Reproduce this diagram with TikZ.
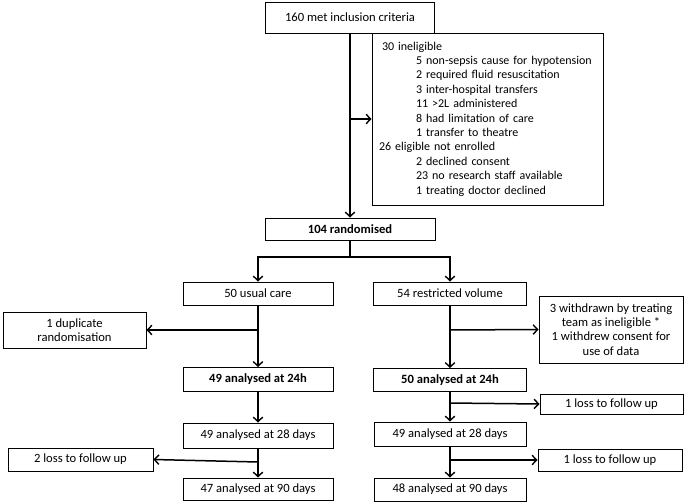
\documentclass[tikz,border=0pt]{standalone}
\usepackage{fontspec}
\setmainfont{Carlito}
\usetikzlibrary{arrows.meta}
\begin{document}
\begin{tikzpicture}[x=1pt,y=-1pt,
  box/.style={draw=black, line width=0.9pt, fill=white, inner sep=2pt, align=center,
    font=\fontsize{12.6}{14.2}\selectfont},
  bbox/.style={box, font=\fontsize{12.6}{14.2}\selectfont\bfseries},
  arr/.style={line width=1.5pt, -{Straight Barb[length=4.5pt,width=9.5pt,line width=1.4pt]}},
  ln/.style={line width=1.5pt}]
\useasboundingbox (0,0) rectangle (685,503);
% main column
\node[box, minimum width=169pt, minimum height=31pt] (top) at (350,17.5) {160 met inclusion criteria};
\node[box, minimum width=231pt, minimum height=172pt, text width=217pt, inner xsep=7pt, align=left,
  font=\fontsize{12}{14.4}\selectfont] (excl) at (487.5,119)
{\hspace*{3pt}30 ineligible\\
\hspace*{37pt}5 non-sepsis cause for hypotension\\
\hspace*{37pt}2 required fluid resuscitation\\
\hspace*{37pt}3 inter-hospital transfers\\
\hspace*{37pt}11 >2L administered\\
\hspace*{37pt}8 had limitation of care\\
\hspace*{37pt}1 transfer to theatre\\
26 eligible not enrolled\\
\hspace*{37pt}2 declined consent\\
\hspace*{37pt}23 no research staff available\\
\hspace*{37pt}1 treating doctor declined};
\node[bbox, minimum width=170pt, minimum height=22pt] (rand) at (350,229) {104 randomised};
% left column
\node[box, minimum width=150pt, minimum height=23pt] (usual) at (258,293.5) {50 usual care};
\node[box, minimum width=143pt, minimum height=36pt] (dup) at (74.5,330) {1 duplicate\\randomisation};
\node[bbox, minimum width=150pt, minimum height=24pt] (l24) at (258,379.5) {49 analysed at 24h};
\node[box, minimum width=150pt, minimum height=25pt] (l28) at (258,435.5) {49 analysed at 28 days};
\node[box, minimum width=145pt, minimum height=23pt] (lloss) at (80.5,459.5) {2 loss to follow up};
\node[box, minimum width=150pt, minimum height=22pt] (l90) at (258,489) {47 analysed at 90 days};
% right column
\node[box, minimum width=153pt, minimum height=23pt] (restr) at (450,293.5) {54 restricted volume};
\node[box, minimum width=144pt, minimum height=67pt] (wd) at (611,329.5) {3 withdrawn by treating\\team as ineligible *\\1 withdrew consent for\\use of data};
\node[bbox, minimum width=153pt, minimum height=23pt] (r24) at (450,380) {50 analysed at 24h};
\node[box, minimum width=143pt, minimum height=20pt] (rloss1) at (611.5,404) {1 loss to follow up};
\node[box, minimum width=152pt, minimum height=24pt] (r28) at (450,434) {49 analysed at 28 days};
\node[box, minimum width=144pt, minimum height=22pt] (rloss2) at (610,460) {1 loss to follow up};
\node[box, minimum width=152pt, minimum height=23pt] (r90) at (450,489.5) {48 analysed at 90 days};
% junction coordinates
\coordinate (j1) at (350,119);
\coordinate (jb) at (350,257);
\coordinate (jl1) at (258,330);
\coordinate (jr1) at (450,330);
\coordinate (jr2) at (450,403);
\coordinate (jl3) at (258,462);
\coordinate (jr3) at (450,460);
% connectors
\draw[arr] (top.south) -- (rand.north);
\draw[arr] (j1) -- (excl.west);
\draw[ln] (rand.south) -- (jb);
\draw[arr] (jb) -| (usual.north);
\draw[arr] (jb) -| (restr.north);
\draw[arr] (usual.south) -- (l24.north);
\draw[arr] (jl1) -- (dup.east);
\draw[arr] (restr.south) -- (r24.north);
\draw[arr] (jr1) -- (wd.west);
\draw[arr] (l24.south) -- (l28.north);
\draw[arr] (r24.south) -- (r28.north);
\draw[arr] (jr2) -- (rloss1.west);
\draw[arr] (l28.south) -- (l90.north);
\draw[arr] (jl3) -- (lloss.east);
\draw[arr] (r28.south) -- (r90.north);
\draw[arr] (jr3) -- (rloss2.west);
\end{tikzpicture}
\end{document}
